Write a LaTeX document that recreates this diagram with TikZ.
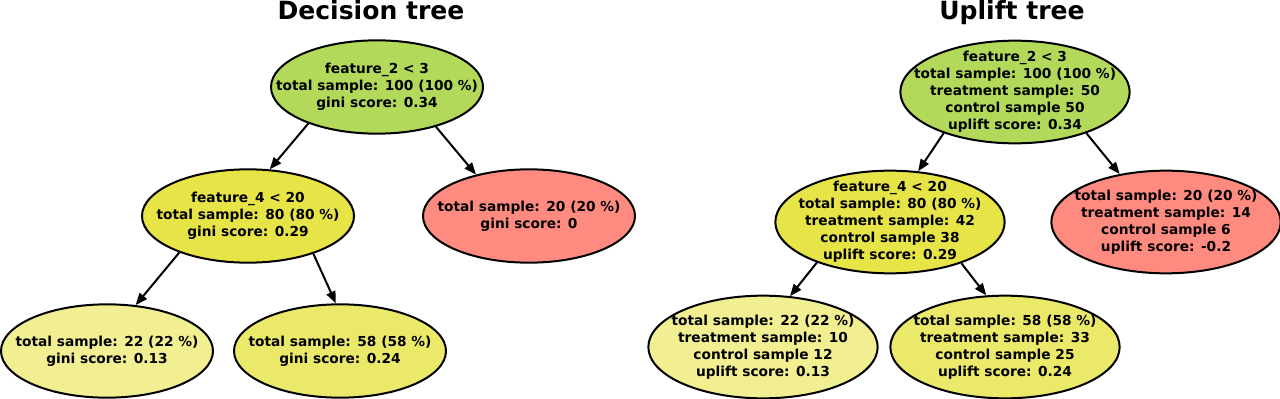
\documentclass[tikz,border=0pt]{standalone}
\usepackage{fontspec}
\setmainfont{DejaVu Sans}
\usetikzlibrary{shapes.geometric}
\usetikzlibrary{arrows.meta}

\definecolor{splitgreen}{HTML}{B3D95B}
\definecolor{splityellow}{HTML}{E6E447}
\definecolor{leafred}{HTML}{FF8A80}
\definecolor{leaflight}{HTML}{F1EF91}
\definecolor{leafmid}{HTML}{EBE96A}

% text of a tree node, kept out of the ellipse size
\newcommand{\nodetext}[1]{\smash{\makebox[0pt]{\raisebox{-2.6pt}{\begin{tabular}{@{}c@{}}#1\end{tabular}}}}}

\begin{document}
\begin{tikzpicture}[x=0.75pt,y=-0.75pt,
  tnode/.style={ellipse,draw,line width=1.5pt,inner sep=0pt,
    font=\bfseries\fontsize{10.3}{12.75}\selectfont},
  dtnode/.style={tnode,minimum width=159pt,minimum height=70pt},
  utnode/.style={tnode,minimum width=172pt,minimum height=77pt},
  edge/.style={line width=1.5pt,-{Triangle[length=9pt,width=7pt]}},
  heading/.style={anchor=base,font=\bfseries\fontsize{18.8}{22}\selectfont}]
\useasboundingbox (0,0) rectangle (1280,399);

%decision tree
\node[heading] (dtitle) at (371,20) {Decision tree};
\node[dtnode,fill=splitgreen] (droot) at (377,87)
  {\nodetext{feature\_2 < 3\\total sample: 100 (100 \%)\\gini score: 0.34}};
\node[dtnode,fill=splityellow] (dleft) at (248,216)
  {\nodetext{feature\_4 < 20\\total sample: 80 (80 \%)\\gini score: 0.29}};
\node[dtnode,fill=leafred] (dright) at (529,216)
  {\nodetext{total sample: 20 (20 \%)\\gini score: 0}};
\node[dtnode,fill=leaflight] (dll) at (107,351)
  {\nodetext{total sample: 22 (22 \%)\\gini score: 0.13}};
\node[dtnode,fill=leafmid] (dlr) at (340,351)
  {\nodetext{total sample: 58 (58 \%)\\gini score: 0.24}};
\draw[edge] (droot.208) -- (dleft.65);
\draw[edge] (droot.326) -- (dright.142);
\draw[edge] (dleft.208) -- (dll.58);
\draw[edge] (dleft.330) -- (dlr.95);

%uplift tree
\node[heading] (utitle) at (1012,20) {Uplift tree};
\node[utnode,fill=splitgreen] (uroot) at (1015,92)
  {\nodetext{feature\_2 < 3\\total sample: 100 (100 \%)\\treatment sample: 50\\control sample 50\\uplift score: 0.34}};
\node[utnode,fill=splityellow] (uleft) at (890,222)
  {\nodetext{feature\_4 < 20\\total sample: 80 (80 \%)\\treatment sample: 42\\control sample 38\\uplift score: 0.29}};
\node[utnode,fill=leafred] (uright) at (1166,222)
  {\nodetext{total sample: 20 (20 \%)\\treatment sample: 14\\control sample 6\\uplift score: -0.2}};
\node[utnode,fill=leaflight] (ull) at (763,347)
  {\nodetext{total sample: 22 (22 \%)\\treatment sample: 10\\control sample 12\\uplift score: 0.13}};
\node[utnode,fill=leafmid] (ulr) at (1005,347)
  {\nodetext{total sample: 58 (58 \%)\\treatment sample: 33\\control sample 25\\uplift score: 0.24}};
\draw[edge] (uroot.210) -- (uleft.61);
\draw[edge] (uroot.330) -- (uright.134);
\draw[edge] (uleft.209) -- (ull.62);
\draw[edge] (uleft.330) -- (ulr.110);
\end{tikzpicture}
\end{document}
